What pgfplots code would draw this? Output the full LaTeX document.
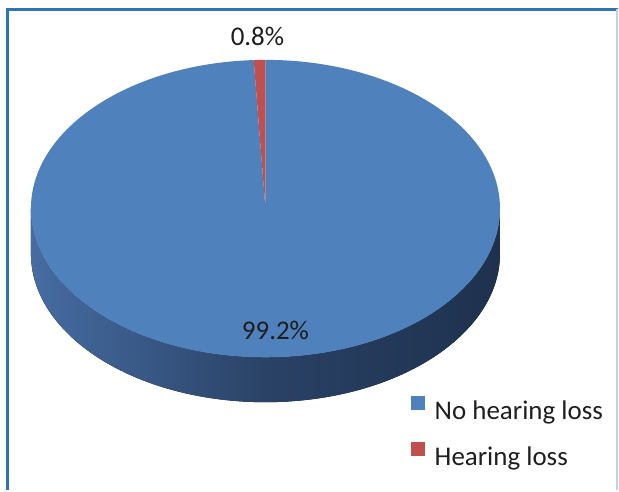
\documentclass[border=0pt]{standalone}
\usepackage{pgfplots}
\pgfplotsset{compat=1.18}
\usepackage{pgfplotstable}
\usepackage{fontspec}
\setmainfont{Carlito}
\definecolor{pieblue}{RGB}{79,129,189}
\definecolor{piered}{RGB}{192,80,77}
\definecolor{sideL}{RGB}{70,108,162}
\definecolor{sideM}{RGB}{42,66,102}
\definecolor{sideR}{RGB}{30,49,78}
\definecolor{frameblue}{RGB}{46,117,182}
\definecolor{framelight}{RGB}{190,210,232}
\definecolor{txt}{RGB}{30,30,30}
\pgfplotstableread{
label value
NoHearingLoss 99.2
HearingLoss 0.8
}\piedata
\begin{document}
\begin{tikzpicture}
\pgfplotstablegetelem{0}{value}\of\piedata \let\vA\pgfplotsretval
\pgfplotstablegetelem{1}{value}\of\piedata \let\vB\pgfplotsretval
\pgfmathsetmacro{\aEnd}{90-3.6*\vA}
\pgfmathsetmacro{\bEnd}{\aEnd-3.6*\vB}
\begin{axis}[
  scale only axis, width=619pt, height=491pt,
  xmin=0, xmax=619, ymin=0, ymax=491,
  hide axis, clip=false,
  legend cell align=left,
  legend style={at={(axis cs:412,94)}, anchor=north west, draw=none, fill=none,
    inner sep=0pt, row sep=21pt, font=\fontsize{27}{32}\selectfont, text=txt,
    nodes={inner sep=0pt}},
]
\path (axis cs:0,0) rectangle (axis cs:619,491);
% frame
\draw[frameblue, line width=2.5pt] (axis cs:7.5,0) -- (axis cs:7.5,481.5) -- (axis cs:619,481.5);
\draw[framelight, line width=1.5pt] (axis cs:618,481.5) -- (axis cs:618,0);
% side of the pie
\fill[left color=sideL, right color=sideR, middle color=sideM]
  (axis cs:31,282) arc[start angle=180, end angle=360, x radius=235pt, y radius=149pt]
  -- (axis cs:501,237) arc[start angle=0, end angle=-180, x radius=235pt, y radius=149pt] -- cycle;
% top face
\fill[pieblue] (axis cs:266,282) -- (axis cs:266,431)
  arc[start angle=90, end angle=\aEnd, x radius=235pt, y radius=149pt] -- cycle;
\fill[piered] (axis cs:266,282) -- (axis cs:266,431)
  arc[start angle=\bEnd, end angle=\aEnd, x radius=235pt, y radius=149pt] -- cycle;
% labels
\node[anchor=base, text=txt, font=\fontsize{27}{32}\selectfont] at (axis cs:258,445) {0.8\%};
\node[anchor=base, text=txt, font=\fontsize{27}{32}\selectfont] at (axis cs:276,151) {99.2\%};
% legend
\addlegendimage{legend image code/.code={\fill[pieblue] (0pt,1.5pt) rectangle (13pt,14.5pt); \path (23pt,0pt);}}
\addlegendentry{No hearing loss}
\addlegendimage{legend image code/.code={\fill[piered] (0pt,1.5pt) rectangle (13pt,14.5pt); \path (23pt,0pt);}}
\addlegendentry{Hearing loss}
\end{axis}
\end{tikzpicture}
\end{document}
